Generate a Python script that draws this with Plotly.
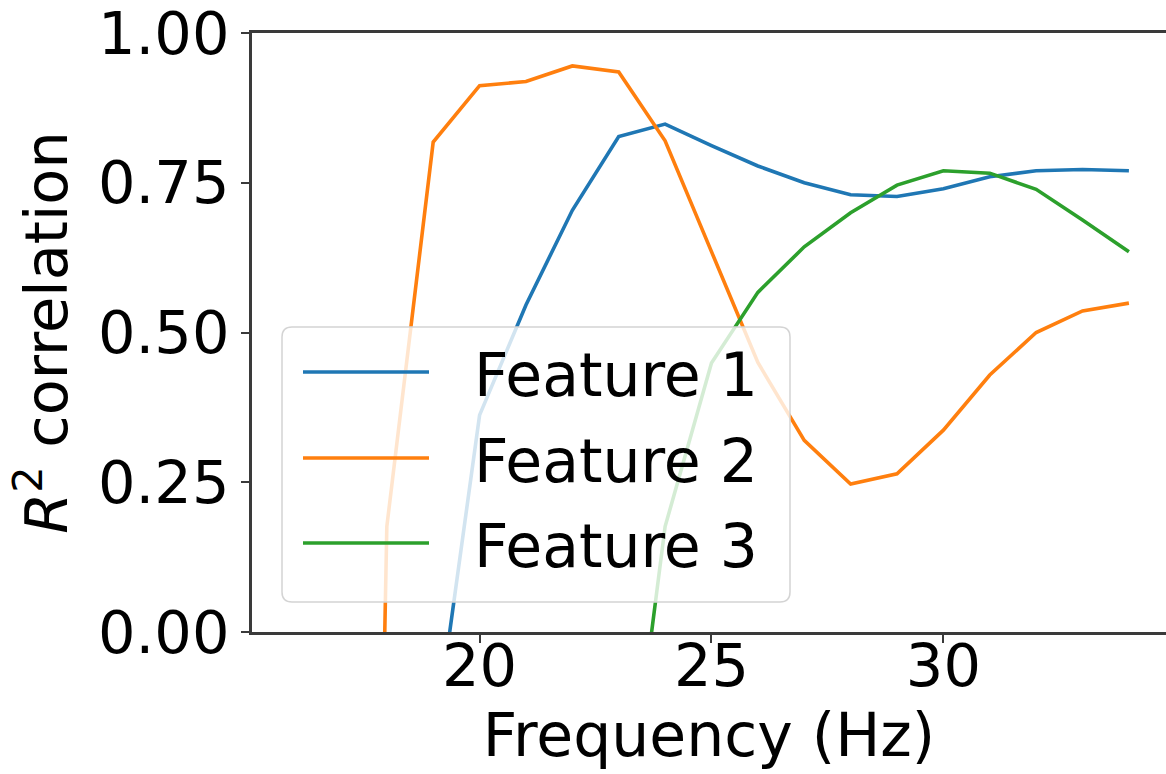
import plotly.graph_objects as go

# Frequency grid (Hz) and R^2 correlation per feature
freq = [16, 17, 18, 19, 20, 21, 22, 23, 24, 25, 26, 27, 28, 29, 30, 31, 32, 33, 34]

feature_1 = [None, None, None, -0.20, 0.362, 0.546, 0.704, 0.827, 0.848, 0.812,
             0.778, 0.750, 0.730, 0.727, 0.740, 0.760, 0.770, 0.772, 0.770]
feature_2 = [None, -3.8, 0.176, 0.818, 0.912, 0.919, 0.945, 0.935, 0.820, 0.635,
             0.450, 0.320, 0.247, 0.264, 0.337, 0.429, 0.500, 0.536, 0.549]
feature_3 = [None, None, None, None, None, None, None, -0.43, 0.176, 0.449,
             0.567, 0.643, 0.700, 0.746, 0.770, 0.766, 0.739, 0.688, 0.635]

series_names = ["Feature 1", "Feature 2", "Feature 3"]
series_values = [feature_1, feature_2, feature_3]
series_colors = ["#1f77b4", "#ff7f0e", "#2ca02c"]

x_ticks = [20, 25, 30]
y_ticks = [0.0, 0.25, 0.5, 0.75, 1.0]

FONT = "DejaVu Sans"
AXIS_COLOR = "#3a3a3a"

# plot area in pixels
W, H = 1166, 774
L, R, T, B = 252, 0, 33, 142
PW, PH = W - L - R, H - T - B


def px_x(px):
    return (px - L) / PW


def px_y(py):
    return (H - B - py) / PH


fig = go.Figure()
for name, vals, color in zip(series_names, series_values, series_colors):
    fig.add_trace(go.Scatter(
        x=freq, y=vals, name=name, mode="lines",
        line=dict(color=color, width=3.6),
        connectgaps=False, showlegend=False,
    ))

# legend box: semi-transparent, rounded corners, drawn over the lines
bx0, bx1, by0, by1, rad = 282, 790, 327, 602, 10
path = (
    f"M {px_x(bx0 + rad)} {px_y(by0)} "
    f"L {px_x(bx1 - rad)} {px_y(by0)} "
    f"Q {px_x(bx1)} {px_y(by0)} {px_x(bx1)} {px_y(by0 + rad)} "
    f"L {px_x(bx1)} {px_y(by1 - rad)} "
    f"Q {px_x(bx1)} {px_y(by1)} {px_x(bx1 - rad)} {px_y(by1)} "
    f"L {px_x(bx0 + rad)} {px_y(by1)} "
    f"Q {px_x(bx0)} {px_y(by1)} {px_x(bx0)} {px_y(by1 - rad)} "
    f"L {px_x(bx0)} {px_y(by0 + rad)} "
    f"Q {px_x(bx0)} {px_y(by0)} {px_x(bx0 + rad)} {px_y(by0)} Z"
)
shapes = [dict(
    type="path", path=path, xref="paper", yref="paper", layer="above",
    fillcolor="rgba(255,255,255,0.8)", line=dict(color="#d4d4d4", width=1.5),
)]
annotations = []
row_y = [372, 458, 543]
for name, color, ry in zip(series_names, series_colors, row_y):
    shapes.append(dict(
        type="line", xref="paper", yref="paper", layer="above",
        x0=px_x(303), x1=px_x(429), y0=px_y(ry), y1=px_y(ry),
        line=dict(color=color, width=3.6),
    ))
    annotations.append(dict(
        text=name, xref="paper", yref="paper", x=px_x(472), y=px_y(ry + 3),
        xanchor="left", yanchor="middle", showarrow=False,
        font=dict(family=FONT, size=60, color="black"),
    ))

fig.update_layout(
    width=W, height=H,
    margin=dict(l=L, r=R, t=T, b=B),
    paper_bgcolor="white", plot_bgcolor="white",
    font=dict(family=FONT, size=59, color="black"),
    showlegend=False,
    shapes=shapes,
    annotations=annotations,
)

fig.update_xaxes(
    range=[15.093, 34.80],
    tickvals=x_ticks, ticktext=[str(t) for t in x_ticks],
    showline=True, linecolor=AXIS_COLOR, linewidth=2.5, mirror=True,
    ticks="outside", ticklen=8, tickwidth=2, tickcolor=AXIS_COLOR,
    showgrid=False, zeroline=False,
    tickfont=dict(family=FONT, size=59, color="black"),
    ticklabelstandoff=-28,
    title=dict(text="Frequency (Hz)", font=dict(family=FONT, size=60), standoff=0),
)

fig.update_yaxes(
    range=[0, 1],
    tickvals=y_ticks, tickformat=".2f",
    ticklabeloverflow="allow",
    showline=True, linecolor=AXIS_COLOR, linewidth=2.5, mirror=False,
    ticks="outside", ticklen=8, tickwidth=2, tickcolor=AXIS_COLOR,
    showgrid=False, zeroline=False,
    tickfont=dict(family=FONT, size=59, color="black"),
    title=dict(text="<i>R</i><sup>2</sup> correlation", font=dict(family=FONT, size=59), standoff=12),
)

fig.write_html("out.html")
